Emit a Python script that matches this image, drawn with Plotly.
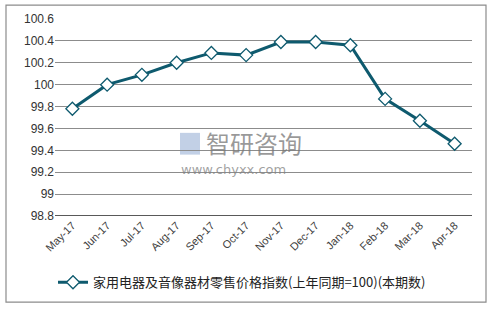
import plotly.graph_objects as go

categories = ["May-17", "Jun-17", "Jul-17", "Aug-17", "Sep-17", "Oct-17",
              "Nov-17", "Dec-17", "Jan-18", "Feb-18", "Mar-18", "Apr-18"]
values = [99.78, 100.0, 100.09, 100.2, 100.29, 100.27, 100.39, 100.39, 100.36, 99.87, 99.67, 99.46]
y_ticks = [98.8, 99, 99.2, 99.4, 99.6, 99.8, 100, 100.2, 100.4, 100.6]
y_tick_text = ["98.8", "99", "99.2", "99.4", "99.6", "99.8", "100", "100.2", "100.4", "100.6"]
series_name = "家用电器及音像器材零售价格指数(上年同期=100)(本期数)"

W, H = 495, 309
L, R, T, B = 55, 23, 19, 91
pw, ph = W - L - R, H - T - B

def px(x):
    return (x - L) / pw

def py(y):
    return (H - B - y) / ph

line_color = "#0e5a6e"
font = "Liberation Sans, Arial, sans-serif"

fig = go.Figure()
fig.add_trace(go.Scatter(
    x=list(range(len(categories))), y=values, mode="lines+markers", name=series_name,
    line=dict(color=line_color, width=3),
    marker=dict(symbol="diamond", size=10, color="white", line=dict(color=line_color, width=1.3)),
))

fig.update_layout(
    width=W, height=H,
    margin=dict(l=L, r=R, t=T, b=B),
    paper_bgcolor="white", plot_bgcolor="white",
    font=dict(family=font, size=11, color="#404040"),
    showlegend=True,
    legend=dict(orientation="h", x=px(242), xanchor="center", y=py(285), yanchor="middle",
                font=dict(family="Noto Sans CJK SC, " + font, size=13, color="#222222"),
                itemwidth=30),
    xaxis=dict(range=[-0.5, 11.5], tickmode="array", tickvals=list(range(len(categories))),
               ticktext=categories, tickangle=-45, showgrid=False, zeroline=False,
               showline=False, ticks="", tickfont=dict(size=11, color="#404040")),
    yaxis=dict(range=[98.8, 100.6], tickmode="array", tickvals=y_ticks, ticktext=y_tick_text,
               showgrid=True, gridcolor="#8c8c8c", gridwidth=1, zeroline=False,
               showline=False, ticks="", ticklen=0, tickfont=dict(size=12, color="#333333")),
    shapes=[
        dict(type="rect", xref="paper", yref="paper", x0=px(6), x1=px(486), y0=py(305), y1=py(5),
             line=dict(color="#8c8c8c", width=1.2), layer="below"),
        dict(type="line", xref="paper", yref="y", x0=0, x1=1, y0=98.8, y1=98.8,
             line=dict(color="#222222", width=1.3)),
        dict(type="rect", xref="paper", yref="paper", x0=px(180), x1=px(200), y0=py(156), y1=py(134),
             line=dict(width=0), fillcolor="rgba(120,150,200,0.45)", layer="below"),
    ],
    annotations=[
        dict(xref="paper", yref="paper", x=px(204), y=py(144), text="智研咨询", showarrow=False,
             xanchor="left", yanchor="middle",
             font=dict(family="Noto Sans CJK SC", size=24, color="rgba(120,120,120,0.75)")),
        dict(xref="paper", yref="paper", x=px(179), y=py(171), text="www.chyxx.com", showarrow=False,
             xanchor="left", yanchor="middle",
             font=dict(family="DejaVu Sans", size=13, color="rgba(130,130,130,0.75)")),
    ],
)

fig.write_html("out.html")
